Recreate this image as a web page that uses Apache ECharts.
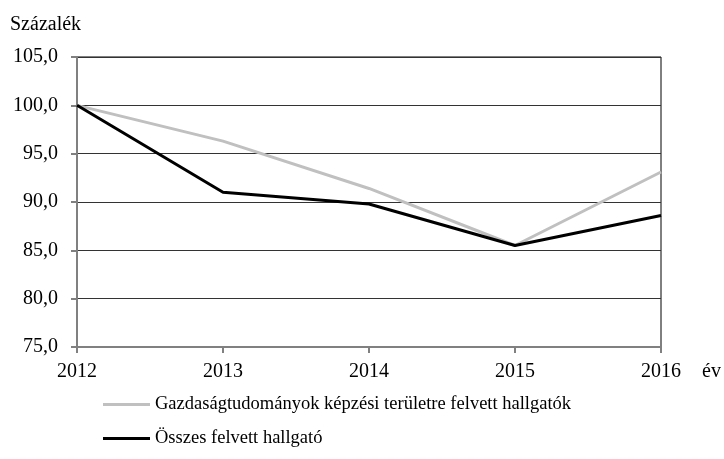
<!DOCTYPE html>
<html>
<head>
<meta charset="utf-8">
<script src="https://cdn.jsdelivr.net/npm/echarts@6/dist/echarts.min.js"></script>
<style>
  html, body { margin: 0; padding: 0; background: #fff; }
  #chart { width: 724px; height: 459px; }
</style>
</head>
<body>
<div id="chart"></div>
<script>
  let years = ['2012', '2013', '2014', '2015', '2016'];
  let gazdasagi = [100, 96.3, 91.4, 85.5, 93.1];
  let osszes = [100, 91.0, 89.8, 85.5, 88.6];
  let seriesNames = ['Gazdaságtudományok képzési területre felvett hallgatók', 'Összes felvett hallgató'];

  let myChart = echarts.init(document.getElementById('chart'));
  let font = 'Liberation Serif';

  let option = {
    animation: false,
    textStyle: { fontFamily: font },
    title: {
      text: 'Százalék',
      left: 10,
      top: 15,
      padding: 0,
      textStyle: { fontFamily: font, fontSize: 20, fontWeight: 'normal', color: '#000' }
    },
    legend: {
      orient: 'vertical',
      left: 103,
      top: 395,
      padding: 0,
      itemGap: 15,
      itemWidth: 47,
      itemHeight: 3,
      icon: 'rect',
      textStyle: { fontFamily: font, fontSize: 18.5, color: '#000' },
      data: seriesNames
    },
    grid: {
      left: 77, right: 63, top: 57, bottom: 112,
      show: true, borderColor: '#000', borderWidth: 1
    },
    xAxis: {
      type: 'category',
      data: years,
      boundaryGap: false,
      name: 'év',
      nameLocation: 'end',
      nameGap: 41,
      nameTextStyle: { fontFamily: font, fontSize: 20, color: '#000', verticalAlign: 'top', padding: [15, 0, 0, 0] },
      axisLine: { lineStyle: { color: '#808080', width: 2 } },
      axisTick: { show: true, length: 6, lineStyle: { color: '#808080', width: 2 } },
      axisLabel: { fontFamily: font, fontSize: 20, color: '#000', margin: 15 },
      splitLine: { show: false }
    },
    yAxis: {
      type: 'value',
      min: 75,
      max: 105,
      interval: 5,
      axisLine: { show: true, lineStyle: { color: '#808080', width: 2 } },
      axisTick: { show: true, length: 6, lineStyle: { color: '#808080', width: 2 } },
      axisLabel: {
        fontFamily: font, fontSize: 20, color: '#000', margin: 19,
        formatter: function (v) { return v.toFixed(1).replace('.', ','); }
      },
      splitLine: { show: true, lineStyle: { color: '#333', width: 1 } }
    },
    series: [
      {
        name: seriesNames[0],
        type: 'line',
        data: gazdasagi,
        showSymbol: false,
        symbol: 'none',
        color: '#c0c0c0',
        lineStyle: { color: '#c0c0c0', width: 3 }
      },
      {
        name: seriesNames[1],
        type: 'line',
        data: osszes,
        showSymbol: false,
        symbol: 'none',
        color: '#000',
        lineStyle: { color: '#000', width: 3 }
      }
    ]
  };
  myChart.setOption(option);
</script>
</body>
</html>
